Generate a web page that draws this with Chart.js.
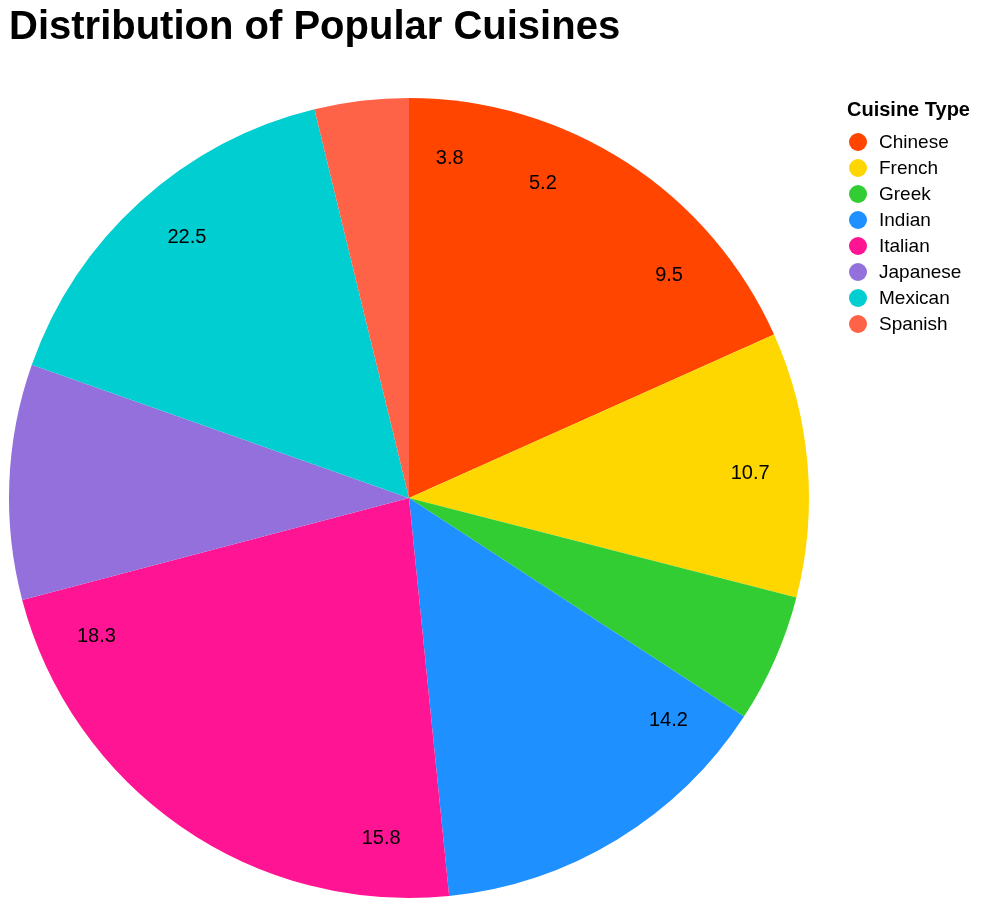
<!DOCTYPE html>
<html>
<head>
<meta charset="utf-8">
<script src="https://cdn.jsdelivr.net/npm/chart.js@4.4.0/dist/chart.umd.min.js"></script>
<style>
  body { margin: 0; background: #fff; }
  #wrap { width: 992px; height: 908px; }
</style>
</head>
<body>
<div id="wrap"><canvas id="pieChart" width="992" height="908"></canvas></div>
<script>
var cuisines = ["Chinese", "French", "Greek", "Indian", "Italian", "Japanese", "Mexican", "Spanish"];
var porcentajes = [18.3, 10.7, 5.2, 14.2, 22.5, 9.5, 15.8, 3.8];
var colores = ["#FF4500", "#FFD700", "#32CD32", "#1E90FF", "#FF1493", "#9370DB", "#00CED1", "#FF6347"];
var fuente = "'Liberation Sans', Arial, Helvetica, sans-serif";

// etiquetas de valores (ordenadas de menor a mayor, como en el original)
var etiquetasPlugin = {
    id: "etiquetas",
    afterDatasetsDraw: function (chart) {
        let arco = chart.getDatasetMeta(0).data[0];
        if (!arco) return;
        let cx = arco.x, cy = arco.y, r = arco.outerRadius * 0.855;
        let ordenados = porcentajes.slice().sort(function (a, b) { return a - b; });
        let total = ordenados.reduce(function (s, v) { return s + v; }, 0);
        let acum = 0;
        let ctx = chart.ctx;
        ctx.save();
        ctx.font = "20px " + fuente;
        ctx.fillStyle = "#000";
        ctx.textAlign = "center";
        ctx.textBaseline = "middle";
        ordenados.forEach(function (v) {
            let ang = -Math.PI / 2 + 2 * Math.PI * (acum + v / 2) / total;
            ctx.fillText(v.toFixed(1), cx + r * Math.cos(ang), cy + r * Math.sin(ang));
            acum += v;
        });
        ctx.restore();
    }
};

// leyenda dibujada a mano
var leyendaPlugin = {
    id: "leyenda",
    afterDraw: function (chart) {
        let ctx = chart.ctx;
        ctx.save();
        ctx.fillStyle = "#000";
        ctx.font = "bold 20px " + fuente;
        ctx.textAlign = "left";
        ctx.textBaseline = "alphabetic";
        ctx.fillText("Cuisine Type", 847, 116);
        ctx.font = "19px " + fuente;
        ctx.textBaseline = "middle";
        chart.data.labels.forEach(function (label, i) {
            let y = 142 + i * 26;
            ctx.beginPath();
            ctx.arc(858, y, 9, 0, 2 * Math.PI);
            ctx.fillStyle = chart.data.datasets[0].backgroundColor[i];
            ctx.fill();
            ctx.fillStyle = "#000";
            ctx.fillText(label, 879, y + 1);
        });
        ctx.restore();
    }
};

let ctx = document.getElementById("pieChart").getContext("2d");
let pieChart = new Chart(ctx, {
    type: "pie",
    data: {
        labels: cuisines,
        datasets: [{
            data: porcentajes,
            backgroundColor: colores,
            borderWidth: 0
        }]
    },
    options: {
        responsive: false,
        animation: false,
        layout: { padding: { left: 9, right: 183, top: 0, bottom: 10 } },
        plugins: {
            legend: { display: false },
            tooltip: { enabled: false },
            title: {
                display: true,
                text: "Distribution of Popular Cuisines",
                align: "start",
                color: "#000",
                font: { family: fuente, size: 40, weight: "bold" },
                padding: { top: 4, bottom: 46 }
            }
        }
    },
    plugins: [etiquetasPlugin, leyendaPlugin]
});
</script>
</body>
</html>
